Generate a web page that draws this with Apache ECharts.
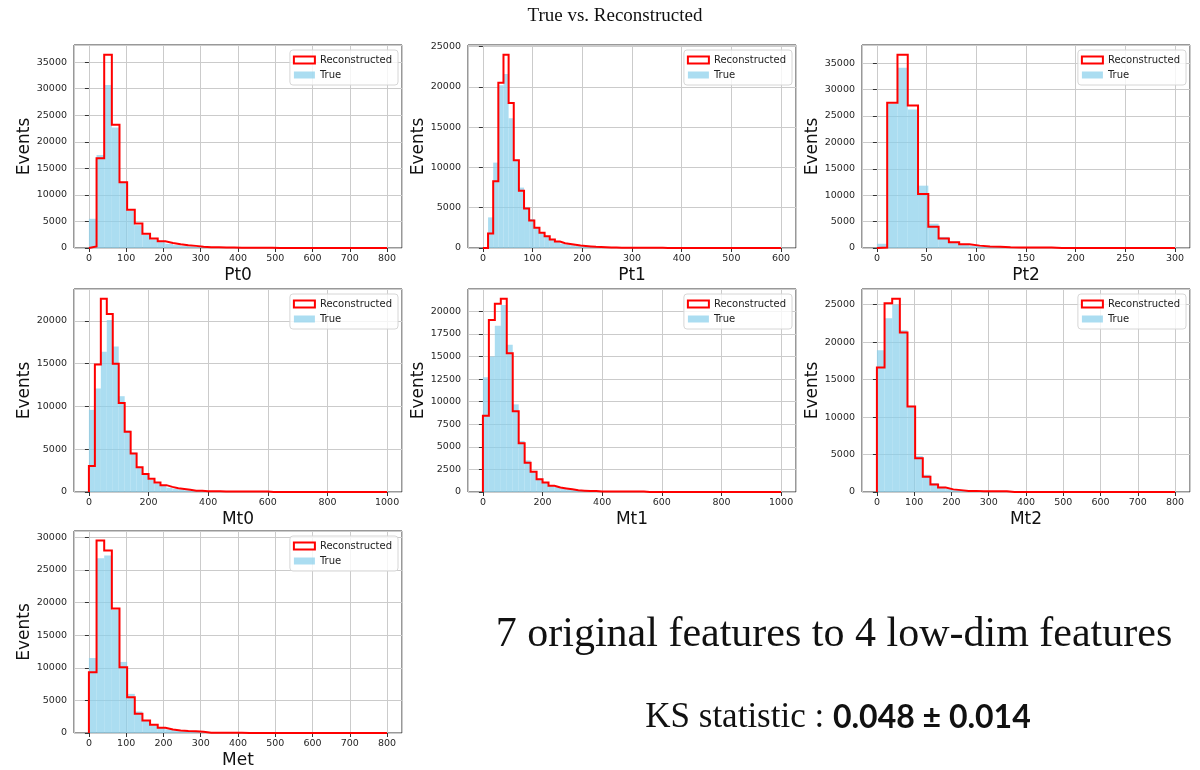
<!DOCTYPE html>
<html>
<head>
<meta charset="utf-8">
<title>True vs. Reconstructed</title>
<script src="https://cdn.jsdelivr.net/npm/echarts@6/dist/echarts.min.js"></script>
</head>
<body style="margin:0">
<div id="main" style="width:1200px;height:770px;"></div>
<script type="text/javascript">
// histogram counts, one bin per entry
var features = ['Pt0', 'Pt1', 'Pt2', 'Mt0', 'Mt1', 'Mt2', 'Met'];
var featRanges = [[0, 800], [0, 600], [0, 300], [0, 1000], [0, 1000], [0, 800], [0, 800]];
var xTickSteps = [100, 100, 50, 200, 200, 100, 100];
var yTickSteps = [5000, 5000, 5000, 5000, 2500, 5000, 5000];

var pt0Reco = [300, 16900, 36400, 23200, 12400, 7200, 4600, 2700, 1800, 1250, 950, 700, 500, 400, 250, 150, 120, 100, 80, 70,
    60, 50, 40, 30, 20, 0, 0, 0, 0, 0, 0, 0, 0, 0, 0, 0, 0, 0, 0];
var pt0True = [5500, 17500, 30700, 22700, 12300, 7000, 4300, 2500, 1600, 1100, 800, 550, 400, 300, 200, 150, 100, 80, 60, 50,
    40, 30, 20, 15, 10, 5, 5, 0, 0, 0, 0, 0, 0, 0, 0, 0, 0, 0, 0];

var pt1Reco = [0, 1800, 8300, 20500, 24000, 18000, 10900, 7100, 4900, 3400, 2500, 1900, 1450, 1050, 800, 600, 500, 400, 300, 250,
    200, 150, 120, 100, 60, 50, 40, 40, 30, 30, 30, 25, 20, 20, 20, 15, 15, 0, 0, 0,
    0, 0, 0, 0, 0, 0, 0, 0, 0, 0, 0, 0, 0, 0, 0, 0, 0, 0];
var pt1True = [0, 3800, 10600, 20200, 21600, 16100, 10900, 7500, 5100, 3600, 2600, 1900, 1400, 1000, 750, 550, 450, 350, 280, 220,
    170, 130, 100, 80, 60, 50, 40, 30, 25, 20, 15, 12, 10, 8, 6, 5, 4, 3, 2, 0,
    0, 0, 0, 0, 0, 0, 0, 0, 0, 0, 0, 0, 0, 0, 0, 0, 0, 0];

var pt2Reco = [100, 27500, 36600, 27000, 10200, 4000, 1800, 1100, 700, 450, 300, 250, 120, 100, 100, 100, 80, 0, 0, 0,
    0, 0, 0, 0, 0, 0, 0, 0, 0];
var pt2True = [800, 27300, 34100, 26200, 11800, 4600, 2100, 1200, 700, 450, 300, 200, 150, 100, 80, 60, 40, 30, 20, 10,
    10, 5, 0, 0, 0, 0, 0, 0, 0];

var mt0Reco = [3050, 14900, 22600, 20800, 15000, 10400, 7050, 4500, 2900, 2100, 1550, 1100, 800, 600, 450, 350, 250, 150, 150, 100,
    100, 100, 50, 50, 50, 50, 50, 50, 50, 50, 0, 0, 0, 0, 0, 0, 0, 0, 0, 0,
    0, 0, 0, 0, 0, 0, 0, 0, 0, 0];
var mt0True = [9600, 12100, 16400, 20100, 17000, 11200, 7200, 4600, 2900, 2000, 1400, 1000, 700, 500, 400, 300, 200, 150, 120, 100,
    80, 60, 50, 40, 30, 20, 15, 10, 10, 5, 0, 0, 0, 0, 0, 0, 0, 0, 0, 0,
    0, 0, 0, 0, 0, 0, 0, 0, 0, 0];

var mt1Reco = [8450, 19050, 20850, 21400, 15350, 8950, 5400, 3250, 2250, 1400, 1050, 700, 500, 400, 300, 200, 150, 100, 100, 50,
    50, 50, 50, 50, 50, 50, 50, 0, 0, 0, 0, 0, 0, 0, 0, 0, 0, 0, 0, 0,
    0, 0, 0, 0, 0, 0, 0, 0, 0, 0];
var mt1True = [12700, 15000, 18400, 20700, 16300, 9700, 5650, 3500, 2300, 1500, 1100, 750, 550, 400, 300, 220, 160, 120, 90, 70,
    50, 40, 30, 20, 15, 10, 5, 0, 0, 0, 0, 0, 0, 0, 0, 0, 0, 0, 0, 0,
    0, 0, 0, 0, 0, 0, 0, 0, 0, 0];

var mt2Reco = [16600, 25200, 25800, 21300, 11400, 4500, 2050, 1000, 600, 350, 250, 150, 150, 100, 100, 100, 100, 0, 0, 0,
    0, 0, 0, 0, 0, 0, 0, 0, 0, 0, 0, 0, 0, 0, 0, 0, 0, 0, 0];
var mt2True = [18900, 23200, 25000, 21600, 11500, 4800, 2300, 1200, 700, 400, 250, 180, 120, 90, 70, 50, 40, 30, 20, 10,
    0, 0, 0, 0, 0, 0, 0, 0, 0, 0, 0, 0, 0, 0, 0, 0, 0, 0, 0];

var metReco = [9300, 29500, 28000, 19100, 10100, 5500, 2950, 1900, 1250, 800, 550, 400, 300, 250, 200, 50, 50, 50, 50, 50,
    0, 0, 0, 0, 0, 0, 0, 0, 0, 0, 0, 0, 0, 0, 0, 0, 0, 0, 0];
var metTrue = [11500, 26800, 27200, 18900, 10900, 6000, 3300, 2000, 1200, 800, 550, 400, 300, 200, 150, 100, 70, 50, 40, 30,
    20, 10, 0, 0, 0, 0, 0, 0, 0, 0, 0, 0, 0, 0, 0, 0, 0, 0, 0];

var recoCounts = [pt0Reco, pt1Reco, pt2Reco, mt0Reco, mt1Reco, mt2Reco, metReco];
var trueCounts = [pt0True, pt1True, pt2True, mt0True, mt1True, mt2True, metTrue];

var RED = '#ff0000';
var TRUE_FILL = 'rgba(135,206,235,0.7)';
var FONT = 'DejaVu Sans';

// panel boxes in px (left, top), 3 columns
var panelPos = [[74, 45], [468, 45], [862, 45], [74, 289], [468, 289], [862, 289], [74, 531]];
var PW = 328, PH = 203;

var myChart = echarts.init(document.getElementById('main'));

function stepPoints(lo, w, counts) {
    var pts = [[lo, 0]];
    counts.forEach(function (c, i) {
        pts.push([lo + i * w, c]);
        pts.push([lo + (i + 1) * w, c]);
    });
    pts.push([lo + counts.length * w, 0]);
    return pts;
}

function barData(lo, w, counts) {
    return counts.map(function (c, i) {
        return [lo + i * w, lo + (i + 1) * w, c];
    });
}

function renderBar(params, api) {
    var p0 = api.coord([api.value(0), api.value(2)]);
    var p1 = api.coord([api.value(1), 0]);
    return {
        type: 'rect',
        shape: { x: p0[0], y: p0[1], width: p1[0] - p0[0], height: p1[1] - p0[1] },
        style: { fill: TRUE_FILL }
    };
}

var grids = [], xAxes = [], yAxes = [], series = [], legends = [];

features.forEach(function (feat, k) {
    var lo = featRanges[k][0], hi = featRanges[k][1];
    var span = hi - lo;
    var reco = recoCounts[k], tru = trueCounts[k];
    var w = span / reco.length;
    var ymax = 1.05 * Math.max(Math.max.apply(null, reco), Math.max.apply(null, tru));
    var pos = panelPos[k];

    grids.push({
        left: pos[0], top: pos[1], width: PW, height: PH,
        show: true, borderColor: '#333', borderWidth: 1, backgroundColor: 'transparent'
    });

    xAxes.push({
        gridIndex: k, type: 'value',
        min: lo - 0.05 * span, max: hi + 0.05 * span,
        minInterval: xTickSteps[k], maxInterval: xTickSteps[k],
        splitNumber: Math.round(span / xTickSteps[k]),
        name: feat, nameLocation: 'middle', nameGap: 19,
        nameTextStyle: { fontFamily: FONT, fontSize: 17, color: '#111' },
        axisLine: { show: false },
        axisTick: { show: true, length: 4, lineStyle: { color: '#333' } },
        axisLabel: {
            showMinLabel: false, showMaxLabel: false, margin: 6,
            fontFamily: FONT, fontSize: 9.5, color: '#262626',
            formatter: function (v) { return String(v); }
        },
        splitLine: { show: true, lineStyle: { color: '#cbcbcb', width: 1 } }
    });

    yAxes.push({
        gridIndex: k, type: 'value',
        min: 0, max: ymax, interval: yTickSteps[k],
        name: 'Events', nameLocation: 'middle', nameGap: 40, nameRotate: 90,
        nameTextStyle: { fontFamily: FONT, fontSize: 17, color: '#111' },
        axisLine: { show: false },
        axisTick: { show: true, length: 4, lineStyle: { color: '#333' } },
        axisLabel: {
            showMaxLabel: false, margin: 7,
            fontFamily: FONT, fontSize: 9.5, color: '#262626',
            formatter: function (v) { return String(v); }
        },
        splitLine: { show: true, lineStyle: { color: '#cbcbcb', width: 1 } }
    });

    series.push({
        name: 'True', type: 'custom',
        xAxisIndex: k, yAxisIndex: k,
        renderItem: renderBar,
        encode: { x: [0, 1], y: 2 },
        itemStyle: { color: TRUE_FILL },
        clip: true, silent: true,
        data: barData(lo, w, tru)
    });

    series.push({
        name: 'Reconstructed', type: 'line',
        xAxisIndex: k, yAxisIndex: k,
        symbol: 'none', showSymbol: false,
        lineStyle: { color: RED, width: 2, join: 'miter' },
        itemStyle: { color: RED },
        clip: true, silent: true,
        data: stepPoints(lo, w, reco)
    });

    legends.push({
        orient: 'vertical',
        right: 1200 - (pos[0] + PW) + 4, top: pos[1] + 5,
        itemWidth: 21, itemHeight: 7, itemGap: 3,
        padding: [4, 6, 4, 3],
        backgroundColor: 'rgba(255,255,255,0.8)',
        borderColor: '#d6d6d6', borderWidth: 1, borderRadius: 3,
        selectedMode: false,
        textStyle: { fontFamily: FONT, fontSize: 10, color: '#222', lineHeight: 12 },
        data: [
            { name: 'Reconstructed', icon: 'rect', itemStyle: { color: '#fff', borderColor: RED, borderWidth: 2 } },
            { name: 'True', icon: 'rect', itemStyle: { color: TRUE_FILL, borderWidth: 0 } }
        ]
    });
});

myChart.setOption({
    animation: false,
    grid: grids,
    xAxis: xAxes,
    yAxis: yAxes,
    legend: legends,
    series: series,
    graphic: [
        {
            type: 'text', x: 615, y: 16,
            style: {
                text: 'True vs. Reconstructed', fontFamily: 'Liberation Serif', fontSize: 19,
                fill: '#111', align: 'center', verticalAlign: 'middle'
            }
        },
        {
            type: 'text', x: 834, y: 635,
            style: {
                text: '7 original features to 4 low-dim features', fontFamily: 'Liberation Serif', fontSize: 42,
                fill: '#111', align: 'center', verticalAlign: 'middle'
            }
        },
        {
            type: 'text', x: 838, y: 718,
            style: {
                text: '{a|KS statistic : }{b|0.048 ± 0.014}',
                align: 'center', verticalAlign: 'middle',
                rich: {
                    a: { fontFamily: 'Liberation Serif', fontSize: 35, fill: '#111' },
                    b: { fontFamily: 'Lato', fontWeight: 'bold', fontSize: 32, fill: '#111' }
                }
            }
        }
    ]
});
</script>
</body>
</html>
